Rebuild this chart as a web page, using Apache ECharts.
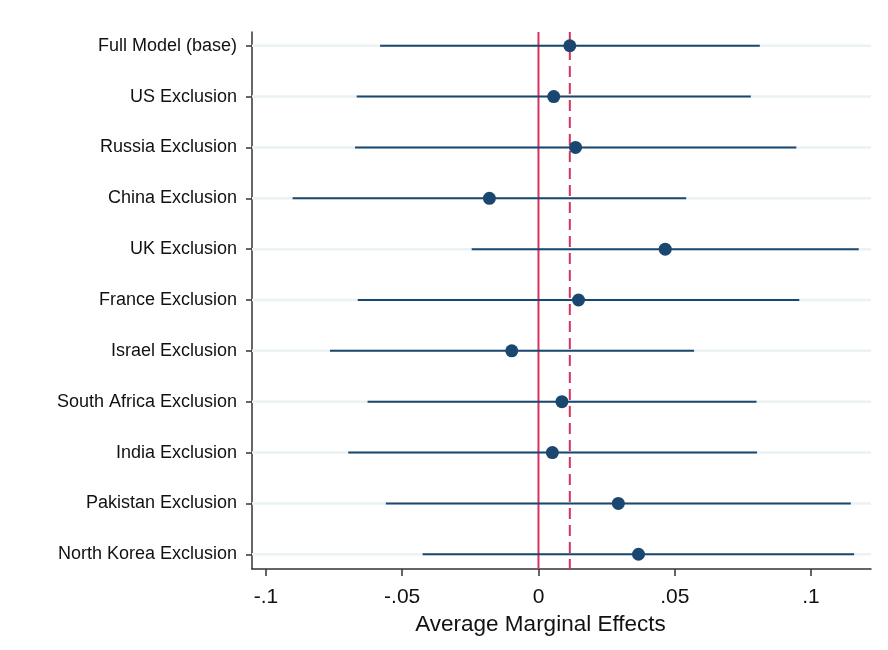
<!DOCTYPE html>
<html>
<head>
    <meta charset="UTF-8">
    <title>Average Marginal Effects</title>
    <script src="https://cdn.jsdelivr.net/npm/echarts@6/dist/echarts.min.js"></script>
    <style>
        html, body { margin: 0; padding: 0; background: #fff; }
        #chart { width: 888px; height: 650px; }
    </style>
</head>
<body>
    <div id="chart"></div>

    <script>
        // Model labels, top to bottom
        var categories = [
            'Full Model (base)', 'US Exclusion', 'Russia Exclusion', 'China Exclusion',
            'UK Exclusion', 'France Exclusion', 'Israel Exclusion', 'South Africa Exclusion',
            'India Exclusion', 'Pakistan Exclusion', 'North Korea Exclusion'
        ];
        // Point estimates and confidence bounds
        var estimates = [0.0115, 0.0056, 0.0136, -0.0180, 0.0465, 0.0147, -0.0098, 0.0086, 0.0051, 0.0293, 0.0367];
        var lower = [-0.0581, -0.0667, -0.0673, -0.0902, -0.0245, -0.0663, -0.0765, -0.0627, -0.0698, -0.0560, -0.0425];
        var upper = [0.0812, 0.0779, 0.0946, 0.0542, 0.1175, 0.0957, 0.0571, 0.0800, 0.0802, 0.1146, 0.1158];
        var xTicks = [-0.1, -0.05, 0, 0.05, 0.1];
        // reference lines: zero and the base model estimate
        var refLines = [0, estimates[0]];
        var xMin = -0.1051, xMax = 0.1220;
        var yMin = -0.27, yMax = 10.29;

        var navy = '#1a476f';
        var red = '#d6335c';

        var rowIdx = categories.map(function (c, i) { return i; });
        var ciData = categories.map(function (c, i) { return [lower[i], upper[i], i]; });
        var ptData = categories.map(function (c, i) { return [estimates[i], i]; });

        function tickText(v) {
            if (v === 0) return '0';
            return String(v).replace('0.', '.');
        }

        var chart = echarts.init(document.getElementById('chart'));
        chart.setOption({
            backgroundColor: '#fff',
            animation: false,
            textStyle: { fontFamily: 'Liberation Sans, Arial, sans-serif' },
            grid: { left: 252, right: 17, top: 32, bottom: 81 },
            xAxis: {
                type: 'value',
                min: xMin,
                max: xMax,
                name: 'Average Marginal Effects',
                nameLocation: 'middle',
                nameGap: 44,
                nameTextStyle: { fontSize: 22.5, color: '#111', padding: [0, 42, 0, 0] },
                axisLine: { onZero: false, lineStyle: { color: '#333', width: 1.5 } },
                axisTick: { show: true, length: 7, customValues: xTicks, lineStyle: { color: '#333', width: 1.5 } },
                axisLabel: { customValues: xTicks, fontSize: 21, color: '#111', margin: 18, formatter: tickText },
                splitLine: { show: false }
            },
            yAxis: {
                type: 'value',
                inverse: true,
                min: yMin,
                max: yMax,
                axisLine: { show: true, onZero: false, lineStyle: { color: '#333', width: 1.5 } },
                axisTick: { show: true, length: 6, customValues: rowIdx, lineStyle: { color: '#333', width: 1.5 } },
                axisLabel: {
                    customValues: rowIdx, fontSize: 18, color: '#111', margin: 15,
                    formatter: function (v) { return categories[Math.round(v)]; }
                },
                splitLine: { show: false }
            },
            series: [
                {
                    // light row guides behind the bars
                    type: 'custom',
                    silent: true,
                    z: 1,
                    data: rowIdx,
                    renderItem: function (params, api) {
                        var a = api.coord([xMin, api.value(0)]);
                        var b = api.coord([xMax, api.value(0)]);
                        return { type: 'line', shape: { x1: a[0], y1: a[1], x2: b[0], y2: b[1] },
                                 style: { stroke: '#eaf2f3', lineWidth: 2.5 } };
                    }
                },
                {
                    // vertical reference lines
                    type: 'custom',
                    silent: true,
                    z: 2,
                    data: refLines.map(function (v, i) { return [v, i]; }),
                    encode: { x: 0 },
                    renderItem: function (params, api) {
                        var a = api.coord([api.value(0), yMin]);
                        var b = api.coord([api.value(0), yMax]);
                        return { type: 'line', shape: { x1: a[0], y1: a[1], x2: b[0], y2: b[1] },
                                 style: { stroke: red, lineWidth: 2, lineDash: api.value(1) === 0 ? null : [11, 6] } };
                    }
                },
                {
                    type: 'custom',
                    z: 3,
                    data: ciData,
                    encode: { x: [0, 1], y: 2 },
                    renderItem: function (params, api) {
                        var a = api.coord([api.value(0), api.value(2)]);
                        var b = api.coord([api.value(1), api.value(2)]);
                        return { type: 'line', shape: { x1: a[0], y1: a[1], x2: b[0], y2: b[1] },
                                 style: { stroke: navy, lineWidth: 2 } };
                    }
                },
                {
                    type: 'scatter',
                    z: 4,
                    symbol: 'circle',
                    symbolSize: 13,
                    itemStyle: { color: navy, opacity: 1 },
                    data: ptData
                }
            ]
        });
    </script>
</body>
</html>
